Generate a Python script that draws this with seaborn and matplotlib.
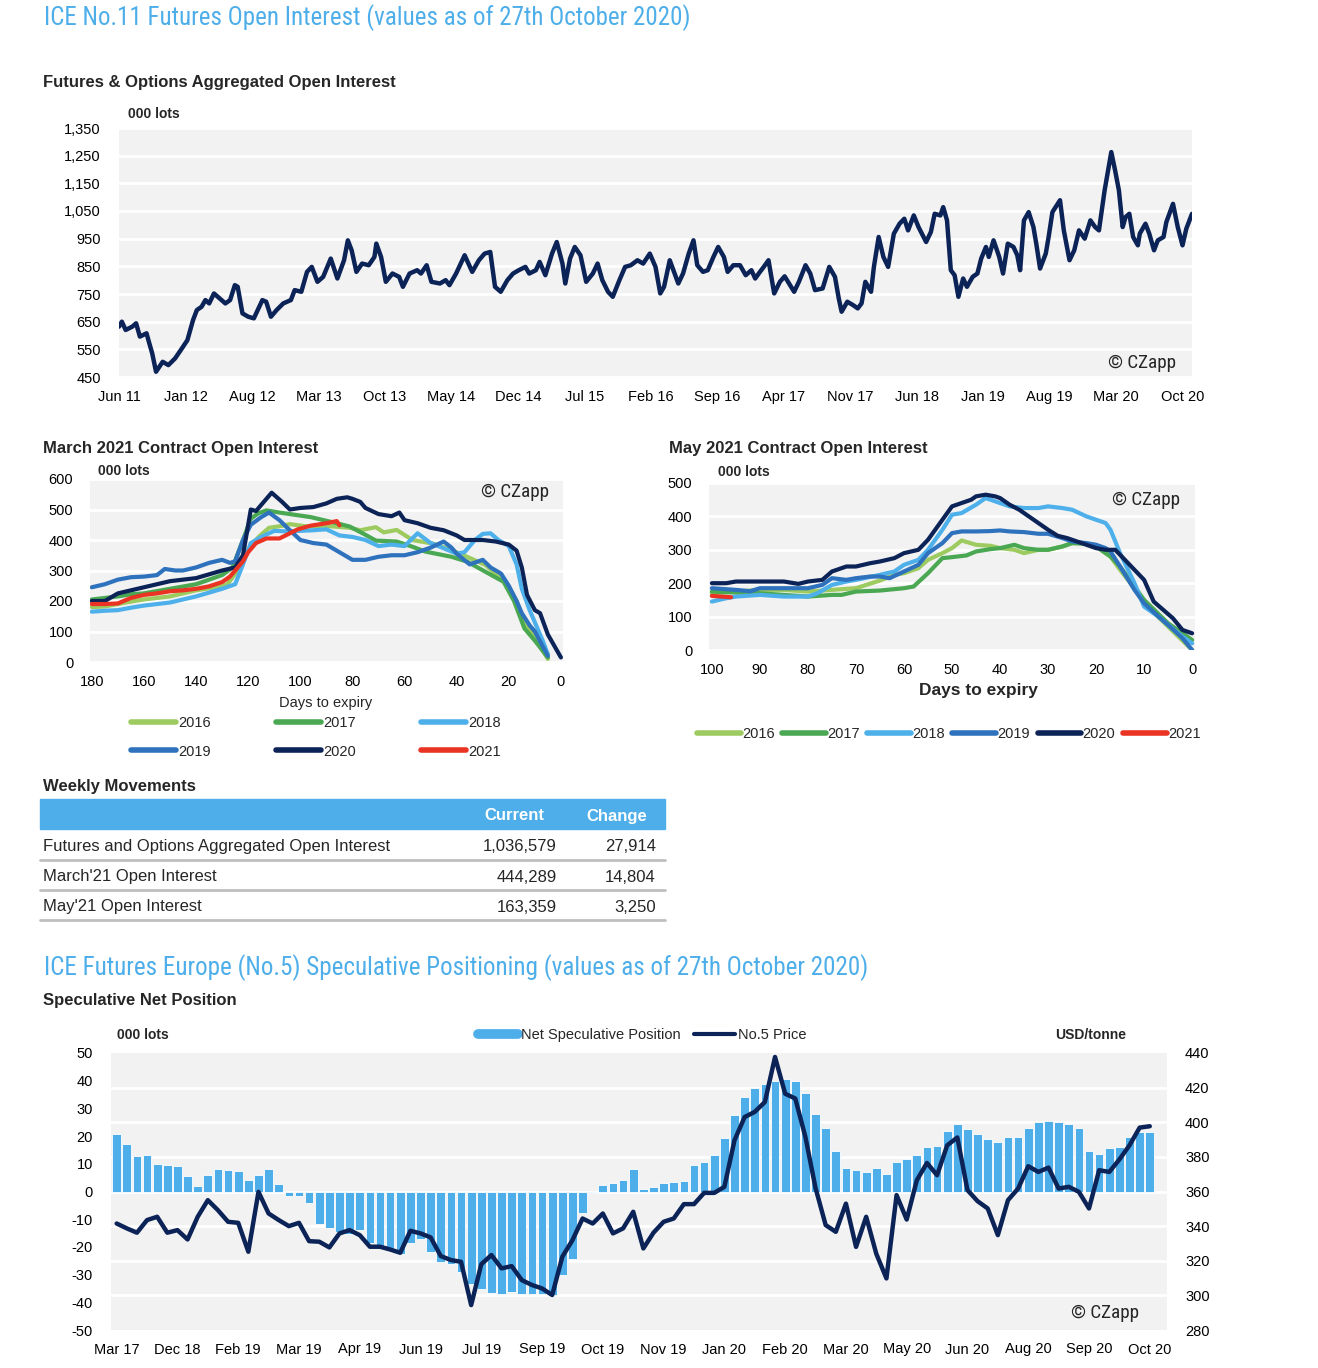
import numpy as np
import pandas as pd
import seaborn as sns
import matplotlib.pyplot as plt
from matplotlib import font_manager as fm
from matplotlib.lines import Line2D
from matplotlib.transforms import blended_transform_factory

# ---------------- data ----------------
# Futures & Options aggregated open interest (000 lots), x = months since Jun 2011
oi_month = [0.0, 0.3, 0.7, 1.4, 1.8, 2.2, 2.9, 3.1, 3.5, 3.9, 4.6, 5.2, 5.9, 6.5, 7.2, 7.8, 8.2, 8.7, 9.1, 9.5,
            10.0, 10.6, 11.2, 11.7, 12.2, 12.5, 13.0, 13.6, 14.2, 15.1, 15.5, 16.0, 16.6, 17.3, 18.1, 18.5, 19.2,
            19.8, 20.3, 20.9, 21.5, 22.3, 23.0, 23.7, 24.1, 24.5, 25.0, 25.6, 26.3, 26.9, 27.1, 27.6, 28.1, 28.8,
            29.5, 29.9, 30.6, 31.4, 31.8, 32.4, 32.9, 33.8, 34.4, 34.8, 35.5, 36.4, 36.8, 37.2, 37.9, 38.5, 39.1,
            39.6, 40.2, 40.9, 41.5, 42.1, 42.8, 43.2, 43.9, 44.3, 44.9, 45.6, 46.1, 46.7, 47.0, 47.5, 48.0, 48.6,
            49.2, 49.9, 50.4, 50.9, 51.5, 52.0, 52.7, 53.3, 53.9, 54.6, 55.2, 55.9, 56.5, 57.0, 57.4, 58.0, 58.9,
            59.4, 60.0, 60.5, 60.9, 61.5, 62.0, 62.6, 63.1, 63.7, 64.1, 64.7, 65.4, 66.0, 66.6, 67.0, 67.5, 67.9,
            68.4, 69.0, 69.6, 70.1, 71.1, 71.6, 72.3, 72.8, 73.3, 74.1, 74.8, 75.4, 75.8, 76.1, 76.7, 77.3, 77.8,
            78.2, 78.6, 79.2, 79.5, 80.0, 80.5, 81.0, 81.6, 82.2, 82.7, 83.1, 83.7, 84.2, 85.0, 85.5, 85.9, 86.5,
            86.8, 87.2, 87.6, 88.0, 88.4, 88.9, 89.3, 89.9, 90.4, 90.8, 91.3, 91.6, 92.1, 92.7, 93.1, 93.6, 94.2,
            94.6, 94.9, 95.3, 95.8, 96.3, 96.6, 97.0, 97.6, 97.9, 98.3, 99.1, 99.5, 100.1, 100.6, 101.1, 101.7,
            102.3, 102.8, 103.2, 103.8, 104.5, 104.9, 105.3, 105.7, 106.0, 106.4, 106.8, 107.3, 107.5, 108.1,
            108.5, 109.0, 109.4, 110.0, 110.3, 111.0, 111.5, 112.0, 112.4, 113.0]
oi_value = [632, 650, 620, 632, 644, 596, 608, 583, 535, 469, 505, 493, 517, 547, 583, 656, 692, 704, 728, 716,
            752, 734, 716, 728, 782, 776, 680, 668, 662, 728, 722, 668, 692, 716, 728, 764, 758,
            830, 848, 794, 812, 878, 806, 872, 944, 908, 830, 860, 854, 884, 932, 884, 794, 824,
            812, 776, 824, 836, 824, 854, 794, 788, 800, 782, 824, 890, 860, 830, 872, 896, 902,
            776, 758, 800, 824, 836, 848, 824, 836, 866, 818, 896, 938, 860, 788, 878, 920, 890,
            794, 824, 860, 800, 758, 740, 800, 848, 854, 872, 860, 896, 848, 752, 776, 872, 788,
            824, 896, 944, 854, 830, 836, 884, 920, 884, 830, 854, 854, 818, 836, 806, 830, 848,
            872, 752, 794, 814, 758, 794, 854, 824, 764, 770, 848, 812, 734, 686, 722, 710, 698,
            716, 794, 758, 848, 956, 884, 848, 968, 1004, 1022, 980, 1034, 992, 938, 974, 1040, 1034,
            1064, 1016, 836, 818, 740, 806, 776, 812, 824, 878, 920, 884, 944, 884, 824, 932, 920,
            890, 836, 1016, 1046, 992, 932, 842, 896, 956, 1046, 1089, 980, 872, 908, 980, 950,
            1016, 992, 980, 1125, 1263, 1197, 1125, 992, 1028, 1040, 956, 926, 968, 1004,
            968, 908, 944, 956, 1010, 1076, 992, 926, 986, 1040]
oi_ticklabels = ["Jun 11", "Jan 12", "Aug 12", "Mar 13", "Oct 13", "May 14", "Dec 14", "Jul 15", "Feb 16",
                 "Sep 16", "Apr 17", "Nov 17", "Jun 18", "Jan 19", "Aug 19", "Mar 20", "Oct 20"]

years = ["2016", "2017", "2018", "2019", "2020", "2021"]
year_colors = ["#9DCB60", "#4AA852", "#4DB0EA", "#2E72BE", "#0C2357", "#EA3323"]

# March contract open interest (000 lots) by days to expiry
mar_days = {
    "2016": [180, 175, 170, 165, 160, 150, 140, 130, 128, 124, 120, 116, 112, 108, 104, 98, 90, 81, 77, 71, 68,
             63, 57, 49, 42, 36, 29, 21, 17, 14, 10, 5],
    "2017": [180, 175, 170, 165, 160, 150, 140, 130, 126, 122, 119, 116, 113, 108, 104, 96, 86, 81, 75, 71, 63,
             57, 52, 42, 36, 29, 22, 18, 14, 10, 5],
    "2018": [180, 175, 170, 165, 160, 150, 140, 130, 125, 122, 119, 115, 110, 105, 100, 95, 90, 85, 80, 75, 70,
             65, 60, 55, 50, 45, 40, 37, 33, 30, 27, 24, 20, 17, 15, 12, 10, 7, 5],
    "2019": [180, 175, 170, 165, 160, 155, 152, 148, 145, 140, 135, 130, 127, 125, 122, 119, 115, 112, 108, 105,
             100, 95, 90, 85, 80, 75, 70, 65, 60, 55, 50, 45, 42, 40, 35, 30, 27, 23, 20, 17, 15, 12, 10, 5],
    "2020": [180, 175, 170, 165, 160, 150, 140, 130, 125, 122, 119, 117, 114, 111, 107, 104, 100, 95, 90, 86,
             82, 80, 77, 75, 70, 65, 62, 60, 55, 50, 45, 40, 37, 30, 25, 20, 17, 15, 13, 10, 8, 5, 2, 0],
    "2021": [180, 175, 170, 165, 160, 155, 150, 145, 140, 135, 130, 127, 125, 122, 120, 117, 113, 108, 104, 101,
             96, 90, 86, 85],
}
mar_values = {
    "2016": [180, 182, 190, 198, 205, 215, 235, 248, 255, 300, 370, 410, 440, 445, 452, 445, 446, 440, 432, 442,
             425, 433, 400, 388, 367, 345, 318, 260, 200, 130, 80, 10],
    "2017": [205, 210, 215, 222, 225, 240, 255, 285, 310, 400, 470, 488, 497, 490, 485, 475, 455, 444, 417, 398,
             395, 378, 362, 345, 329, 296, 263, 200, 110, 70, 15],
    "2018": [165, 168, 170, 178, 185, 195, 215, 240, 255, 320, 390, 410, 430, 428, 430, 432, 435, 415, 410, 400,
             380, 385, 380, 422, 390, 373, 355, 360, 400, 420, 422, 400, 380, 320, 240, 170, 130, 70, 25],
    "2019": [245, 255, 270, 278, 280, 285, 305, 300, 300, 310, 325, 335, 325, 330, 400, 450, 475, 490, 465, 440,
             400, 390, 385, 360, 335, 335, 345, 350, 350, 360, 375, 395, 375, 355, 320, 335, 310, 290, 250, 200,
             160, 120, 100, 20],
    "2020": [200, 200, 225, 235, 245, 265, 275, 300, 310, 350, 500, 495, 525, 555, 525, 500, 505, 508, 520, 535,
             540, 535, 525, 505, 485, 478, 490, 465, 455, 440, 432, 415, 400, 400, 395, 385, 365, 310, 220, 170,
             160, 90, 45, 15],
    "2021": [190, 190, 192, 210, 220, 225, 232, 235, 240, 248, 262, 280, 300, 330, 360, 390, 405, 405, 422, 435,
             447, 455, 462, 448],
}

# May contract open interest (000 lots) by days to expiry
may_days = {
    "2016": [100, 95, 90, 85, 80, 75, 70, 65, 62, 60, 57, 55, 52, 50, 48, 45, 42, 40, 37, 35, 32, 30, 27, 25, 22,
             20, 17, 15, 12, 10, 5, 0],
    "2017": [100, 95, 90, 85, 80, 75, 73, 70, 65, 60, 58, 55, 52, 50, 47, 45, 42, 40, 37, 35, 32, 30, 27, 25, 22,
             20, 17, 15, 10, 5, 0],
    "2018": [100, 97, 95, 90, 85, 80, 78, 75, 72, 70, 65, 62, 60, 57, 55, 52, 50, 48, 45, 43, 40, 38, 35, 32, 30,
             27, 25, 22, 20, 18, 17, 15, 12, 10, 7, 5, 2, 0],
    "2019": [100, 95, 92, 90, 85, 80, 77, 75, 72, 70, 67, 65, 63, 60, 57, 55, 52, 50, 48, 45, 42, 40, 38, 35, 32,
             30, 27, 25, 22, 20, 18, 17, 15, 12, 10, 7, 5, 2, 0],
    "2020": [100, 97, 95, 90, 85, 82, 80, 77, 75, 72, 70, 67, 65, 62, 60, 57, 55, 52, 50, 48, 46, 45, 43, 41, 40,
             38, 36, 34, 32, 30, 28, 26, 24, 22, 20, 18, 16, 14, 12, 10, 8, 6, 4, 2, 0],
    "2021": [100, 98, 96],
}
may_values = {
    "2016": [170, 175, 180, 180, 175, 180, 185, 208, 225, 230, 245, 270, 290, 305, 328, 315, 312, 305, 300, 290,
             300, 300, 310, 320, 320, 310, 280, 240, 185, 140, 70, 0],
    "2017": [175, 172, 170, 165, 160, 165, 165, 175, 178, 185, 190, 230, 275, 278, 283, 295, 302, 305, 315, 305,
             300, 300, 310, 320, 318, 310, 280, 250, 150, 80, 30],
    "2018": [145, 155, 160, 165, 160, 160, 170, 195, 205, 210, 225, 235, 255, 270, 300, 360, 405, 410, 435, 455,
             440, 430, 425, 425, 430, 425, 420, 400, 390, 380, 360, 290, 200, 130, 100, 75, 40, 20],
    "2019": [185, 180, 176, 185, 185, 185, 195, 215, 210, 215, 220, 220, 215, 235, 255, 290, 320, 350, 355, 355,
             356, 358, 355, 353, 348, 348, 335, 325, 320, 315, 305, 295, 250, 180, 140, 100, 75, 35, 0],
    "2020": [200, 200, 205, 205, 205, 198, 205, 210, 235, 250, 250, 260, 265, 275, 290, 300, 330, 390, 430, 440,
             450, 460, 465, 460, 455, 435, 420, 400, 380, 360, 342, 335, 325, 315, 305, 300, 300, 270, 240, 210,
             145, 120, 95, 60, 50],
    "2021": [162, 160, 158],
}

# Weekly movements table
table_labels = ["Futures and Options Aggregated Open Interest", "March'21 Open Interest", "May'21 Open Interest"]
table_current = [1036579, 444289, 163359]
table_change = [27914, 14804, 3250]

# No.5 speculative net position (000 lots, weekly) and No.5 price (USD/tonne)
net_pos = [20.9, 17.3, 12.7, 13.1, 10.1, 9.4, 9.2, 5.5, 2.0, 6.1, 8.1, 7.8, 7.5, 4.0, 6.1, 8.2, 2.6,
           -1.7, -1.7, -4.1, -11.8, -13.0, -14.8, -15.4, -13.9, -18.5, -19.8, -20.8, -22.4, -18.5, -17.0, -21.8,
           -25.6, -26.0, -29.0, -33.4, -35.3, -36.8, -37.0, -36.2, -37.0, -37.0, -37.0, -37.4, -30.2, -24.4, -7.8,
           -0.7, 2.5, 2.9, 4.1, 8.1, 0.8, 1.7, 2.9, 3.4, 3.8, 9.4, 10.6, 13.2, 19.4, 27.6, 34.1, 37.5, 38.8, 39.9,
           40.5, 39.9, 35.7, 27.9, 22.8, 14.7, 8.5, 7.9, 7.0, 8.5, 6.3, 10.5, 11.7, 13.1, 15.9, 16.3, 21.9, 24.5,
           22.7, 20.6, 19.0, 17.8, 19.5, 19.7, 23.1, 25.1, 25.5, 25.2, 24.3, 22.8, 14.7, 13.7, 15.7, 15.9, 19.5,
           21.5, 21.6]
no5_price = [341.5, 338.7, 336.2, 343.5, 345.4, 336.2, 337.7, 332.3, 345.4, 355.0, 349.2, 342.5, 341.9, 325.2,
             359.8, 347.3, 343.5, 340.0, 341.9, 331.3, 331.0, 327.7, 335.8, 337.7, 334.8, 328.1, 328.1, 326.5,
             324.6, 337.3, 335.8, 333.5, 322.7, 320.4, 319.4, 294.4, 318.0, 323.3, 315.6, 316.9, 308.8, 306.0,
             304.0, 300.2, 322.3, 331.9, 344.4, 341.5, 347.3, 335.8, 338.7, 348.3, 327.1, 336.2, 342.5, 344.4,
             352.7, 352.7, 359.2, 359.2, 362.7, 389.6, 403.0, 406.0, 411.7, 437.7, 416.5, 413.7, 391.5, 362.0,
             340.6, 336.7, 353.0, 328.0, 345.4, 324.0, 309.8, 357.9, 343.8, 366.5, 376.5, 369.4, 386.7, 391.2,
             360.8, 354.4, 350.2, 334.8, 355.0, 361.7, 374.6, 371.3, 373.8, 361.7, 362.7, 359.8, 350.2, 372.3,
             371.3, 378.5, 386.7, 396.9, 397.7]
spec_ticklabels = ["Mar 17", "Dec 18", "Feb 19", "Mar 19", "Apr 19", "Jun 19", "Jul 19", "Sep 19", "Oct 19",
                   "Nov 19", "Jan 20", "Feb 20", "Mar 20", "May 20", "Jun 20", "Aug 20", "Sep 20", "Oct 20"]

# ---------------- style ----------------
NAVY = "#0C2357"
TITLE_BLUE = "#4DAEEA"
BAR_BLUE = "#4DAEEA"
BG = "#F2F2F2"

sns.set_theme(style="white")
plt.rcParams["font.family"] = ["Liberation Sans", "DejaVu Sans"]
plt.rcParams["axes.unicode_minus"] = False


def pick_narrow():
    # a condensed face if one is installed, else plain Liberation Sans
    for fam in ["Liberation Sans Narrow", "Roboto Condensed", "Open Sans Condensed", "DejaVu Sans"]:
        try:
            path = fm.findfont(fm.FontProperties(family=fam, stretch="condensed"), fallback_to_default=False)
        except ValueError:
            continue
        if "Narrow" in path or "Condensed" in path:
            return dict(family=fam, stretch="condensed")
    return dict(family="Liberation Sans")


NARROW = pick_narrow()

W, H = 1318, 1368
fig = plt.figure(figsize=(W / 100, H / 100), dpi=100)
renderer = fig.canvas.get_renderer()


def px_axes(left, top, right, bottom):
    return fig.add_axes([left / W, 1 - bottom / H, (right - left) / W, (bottom - top) / H])


def ftext(x, y, s, **kw):
    kw.setdefault("va", "center")
    return fig.text(x / W, 1 - y / H, s, **kw)


def fit_width(t, target_px):
    # shrink/grow a text so it spans the same width as in the reference
    w = t.get_window_extent(renderer).width
    t.set_fontsize(t.get_fontsize() * target_px / w)


def style_axes(ax, size=10.5):
    ax.set_facecolor(BG)
    for sp in ax.spines.values():
        sp.set_visible(False)
    ax.tick_params(length=0, labelsize=size, colors="black")
    ax.set_xlabel("")
    ax.set_ylabel("")


def czapp(ax, x, y):
    t = ax.text(x, y, "© CZapp", transform=ax.transAxes, ha="right", va="center", fontsize=13, **NARROW)
    fit_width(t, 68)


# ---------------- top: aggregated open interest ----------------
t = ftext(44, 18, "ICE No.11 Futures Open Interest (values as of 27th October 2020)",
          color=TITLE_BLUE, fontsize=18, **NARROW)
fit_width(t, 648)
ftext(43, 82, "Futures & Options Aggregated Open Interest", fontsize=12, weight="bold")
ftext(128, 114, "000 lots", fontsize=10, weight="bold")

ax1 = px_axes(119, 128, 1192, 377)
sns.lineplot(x=oi_month, y=oi_value, ax=ax1, color=NAVY, linewidth=3.2, estimator=None)
style_axes(ax1)
ax1.set_xlim(0, 113)
ax1.set_ylim(450, 1350)
ax1.set_yticks(range(450, 1351, 100))
ax1.set_yticklabels([f"{v:,}" for v in range(450, 1351, 100)])
ax1.set_xticks(range(0, 113, 7))
ax1.set_xticklabels(oi_ticklabels)
ax1.yaxis.grid(True, color="white", linewidth=2)
ax1.tick_params(axis="y", pad=13)
ax1.tick_params(axis="x", pad=9)
czapp(ax1, 0.9855, 0.055)


# ---------------- contract charts ----------------
def contract_df(days, values):
    rows = []
    for yr in years:
        for d, v in zip(days[yr], values[yr]):
            rows.append((yr, d, v))
    return pd.DataFrame(rows, columns=["year", "days", "oi"])


def year_handles():
    return [Line2D([], [], color=c, linewidth=4) for c in year_colors]


# March 2021
ftext(43, 449, "March 2021 Contract Open Interest", fontsize=12, weight="bold")
ftext(98, 471, "000 lots", fontsize=10, weight="bold")
ax2 = px_axes(90, 479, 563, 662)
sns.lineplot(data=contract_df(mar_days, mar_values), x="days", y="oi", hue="year", hue_order=years,
             palette=year_colors, ax=ax2, linewidth=3, estimator=None, legend=False)
style_axes(ax2)
ax2.set_xlim(180.7, -0.8)
ax2.set_ylim(0, 600)
ax2.set_xticks(range(180, -1, -20))
ax2.set_yticks(range(0, 601, 100))
ax2.yaxis.grid(True, color="white", linewidth=2)
ax2.tick_params(axis="y", pad=12)
ax2.tick_params(axis="x", pad=9)
czapp(ax2, 0.97, 0.93)
ftext(326, 703, "Days to expiry", fontsize=10.5, ha="center")
order = [0, 3, 1, 4, 2, 5]
hs = year_handles()
fig.legend([hs[i] for i in order], [years[i] for i in order], ncol=3, loc="upper left",
           bbox_to_anchor=(131 / W, 1 - 716 / H), frameon=False, fontsize=10.5, handlelength=3.1,
           handletextpad=0.15, columnspacing=4.45, labelspacing=1.0, borderaxespad=0, borderpad=0)

# May 2021
ftext(669, 449, "May 2021 Contract Open Interest", fontsize=12, weight="bold")
ftext(718, 472, "000 lots", fontsize=10, weight="bold")
ax3 = px_axes(709, 483, 1195, 650)
sns.lineplot(data=contract_df(may_days, may_values), x="days", y="oi", hue="year", hue_order=years,
             palette=year_colors, ax=ax3, linewidth=3, estimator=None, legend=False)
style_axes(ax3)
ax3.set_xlim(100.6, -0.6)
ax3.set_ylim(0, 500)
ax3.set_xticks(range(100, -1, -10))
ax3.set_yticks(range(0, 501, 100))
ax3.yaxis.grid(True, color="white", linewidth=2)
ax3.tick_params(axis="y", pad=12)
ax3.tick_params(axis="x", pad=9)
czapp(ax3, 0.97, 0.9)
ftext(978, 691, "Days to expiry", fontsize=12.5, weight="bold", ha="center")
fig.legend(year_handles(), years, ncol=6, loc="center left", bbox_to_anchor=(697 / W, 1 - 734 / H),
           frameon=False, fontsize=10.5, handlelength=3.0, handletextpad=0.1, columnspacing=0.5,
           borderaxespad=0, borderpad=0)

# ---------------- weekly movements table ----------------
ftext(43, 786, "Weekly Movements", fontsize=12, weight="bold")
fig.patches.append(plt.Rectangle((40 / W, 1 - 829 / H), 625 / W, 30 / H, transform=fig.transFigure,
                                 color=BAR_BLUE, zorder=0))
ftext(514, 816, "Current", fontsize=12, weight="bold", color="white", ha="center")
ftext(617, 816, "Change", fontsize=12, weight="bold", color="white", ha="center")
for i, (lab, cur, chg) in enumerate(zip(table_labels, table_current, table_change)):
    y = 847 + 30 * i
    ftext(43, y, lab, fontsize=12)
    ftext(557, y, f"{cur:,}", fontsize=12, ha="right")
    ftext(656, y, f"{chg:,}", fontsize=12, ha="right")
    fig.add_artist(Line2D([40 / W, 665 / W], [1 - (y + 13) / H] * 2, transform=fig.transFigure,
                          color="#BFBFBF", linewidth=2))

# ---------------- bottom: speculative positioning ----------------
t = ftext(44, 968, "ICE Futures Europe (No.5) Speculative Positioning (values as of 27th October 2020)",
          color=TITLE_BLUE, fontsize=18, **NARROW)
fit_width(t, 827)
ftext(43, 1001, "Speculative Net Position", fontsize=12, weight="bold")
ftext(117, 1035, "000 lots", fontsize=10, weight="bold")
ftext(1055, 1035, "USD/tonne", fontsize=10, weight="bold")

week_idx = list(range(len(net_pos)))
ax4 = px_axes(111, 1053, 1167, 1330)
sns.barplot(x=week_idx, y=net_pos, ax=ax4, color=BAR_BLUE, saturation=1, width=0.86,
            edgecolor="white", linewidth=0.6)
style_axes(ax4)
ax4b = ax4.twinx()
sns.lineplot(x=week_idx, y=no5_price, ax=ax4b, color=NAVY, linewidth=3.2, estimator=None)
style_axes(ax4b)
ax4b.patch.set_visible(False)
ax4.set_ylim(-50, 50)
ax4.set_yticks(range(-50, 51, 10))
ax4b.set_ylim(280, 440)
ax4b.set_yticks(range(280, 441, 20))
ax4.set_xlim(-0.56, 103.7)
ax4.set_xticks(range(0, len(net_pos), 6))
ax4.set_xticklabels(spec_ticklabels)
ax4.tick_params(axis="y", pad=13)
ax4b.tick_params(axis="y", pad=13)
ax4.tick_params(axis="x", pad=9)
grid_tr = blended_transform_factory(ax4.transAxes, ax4b.transData)
for v in range(300, 421, 20):
    ax4.plot([0, 1], [v, v], transform=grid_tr, color="white", linewidth=2, zorder=0.5)
czapp(ax4b, 0.9735, 0.06)
ax4.legend([Line2D([], [], color=BAR_BLUE, linewidth=7), Line2D([], [], color=NAVY, linewidth=3)],
           ["Net Speculative Position", "No.5 Price"], ncol=2, loc="center",
           bbox_to_anchor=(642 / W, 1 - 1035 / H), bbox_transform=fig.transFigure, frameon=False,
           fontsize=10.5, handlelength=2.8, handletextpad=0.2, columnspacing=0.9, borderpad=0)

fig.savefig("out.png", dpi=100)
